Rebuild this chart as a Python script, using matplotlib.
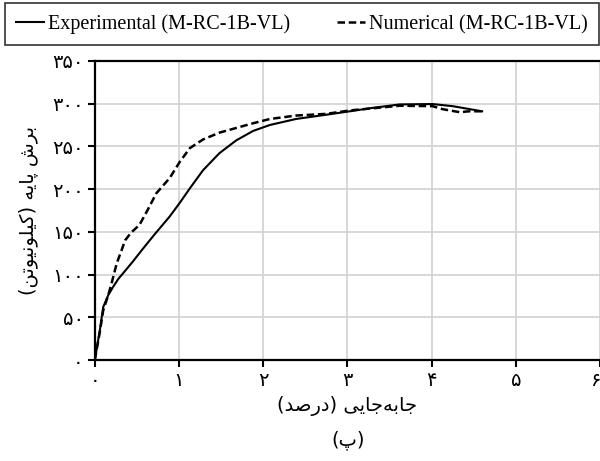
import matplotlib

matplotlib.use("Agg")
import matplotlib.pyplot as plt

# drift (%) vs base shear (kN)
exp_x = [0.0, 0.06, 0.10, 0.16, 0.22, 0.28, 0.34, 0.45, 0.57, 0.71, 0.89, 1.01, 1.13,
         1.285, 1.48, 1.68, 1.88, 2.08, 2.39, 2.75, 3.03, 3.30, 3.62, 4.01, 4.25, 4.60]
exp_y = [0.0, 35.0, 62.0, 76.0, 86.0, 95.0, 102.0, 115.0, 130.0, 147.0, 168.0, 184.0, 201.0,
         222.0, 242.0, 257.0, 268.0, 275.0, 282.0, 287.0, 291.0, 295.0, 299.0, 299.5, 297.0, 291.0]

num_x = [0.0, 0.06, 0.10, 0.16, 0.20, 0.26, 0.32, 0.36, 0.43, 0.53, 0.63, 0.73, 0.89,
         1.01, 1.13, 1.285, 1.48, 1.68, 1.88, 2.08, 2.39, 2.75, 3.03, 3.30, 3.62,
         4.01, 4.13, 4.33, 4.45, 4.60]
num_y = [0.0, 33.0, 58.0, 76.0, 90.0, 113.0, 129.0, 140.0, 149.0, 158.0, 176.0, 195.0, 213.0,
         232.0, 248.0, 258.0, 266.0, 271.5, 277.0, 282.0, 286.0, 288.0, 292.0, 294.5, 297.5,
         297.0, 293.5, 290.0, 291.0, 291.0]

x_ticks = [0, 1, 2, 3, 4, 5, 6]
x_tick_labels = ["۰", "۱", "۲", "۳", "۴", "۵", "۶"]
y_ticks = [0, 50, 100, 150, 200, 250, 300, 350]
y_tick_labels = ["۰", "۵۰", "۱۰۰", "۱۵۰", "۲۰۰", "۲۵۰", "۳۰۰", "۳۵۰"]

# Persian labels, pre-shaped (presentation forms, visual order)
x_label = "(ﺪﺻﺭﺩ) ﯽﯾﺎﺟﻪﺑﺎﺟ"
y_label = "(ﻦﺗﻮﯿﻧﻮﻠﯿﮐ) ﻪﯾﺎﭘ ﺵﺮﺑ"
caption = "(ﭖ)"

plt.rcParams["font.family"] = ["Liberation Serif", "DejaVu Sans"]

fig = plt.figure(figsize=(6.0, 4.61), dpi=100)
ax = fig.add_axes([0.158, 0.219, 0.842, 0.649])

ax.plot(exp_x, exp_y, color="black", linewidth=1.5, label="Experimental (M-RC-1B-VL)")
ax.plot(num_x, num_y, color="black", linewidth=1.8, linestyle=(0, (3, 1.5)),
        label="Numerical (M-RC-1B-VL)")

ax.set_xlim(0, 6)
ax.set_ylim(0, 350)
ax.set_xticks(x_ticks)
ax.set_xticklabels(x_tick_labels, family=["DejaVu Sans"], fontsize=14)
ax.get_xticklabels()[-1].set_horizontalalignment("right")
ax.set_yticks(y_ticks)
ax.set_yticklabels(y_tick_labels, family=["DejaVu Sans"], fontsize=14)
ax.tick_params(direction="out", length=5, width=1.5, colors="black", pad=3)
ax.grid(color="#d4d4d4", linewidth=1.3)
ax.set_axisbelow(True)
for side in ("left", "bottom", "top"):
    ax.spines[side].set_linewidth(1.6)
ax.spines["right"].set_visible(False)

ax.set_xlabel(x_label, family=["DejaVu Sans"], fontsize=14, labelpad=4)
ax.set_ylabel(y_label, family=["DejaVu Sans"], fontsize=14, labelpad=10)
fig.text(0.58, 0.035, caption, family=["DejaVu Sans"], fontsize=14, ha="center")

leg = fig.legend(loc="lower left", bbox_to_anchor=(0.008, 0.902, 0.99, 0.081),
                 mode="expand", ncol=2, fontsize=14.5, handlelength=1.4,
                 handletextpad=0.2, columnspacing=1.5, borderpad=0.55,
                 borderaxespad=0.0, frameon=True, fancybox=False, edgecolor="black")
leg.get_frame().set_linewidth(1.2)

fig.savefig("out.png", dpi=100)
